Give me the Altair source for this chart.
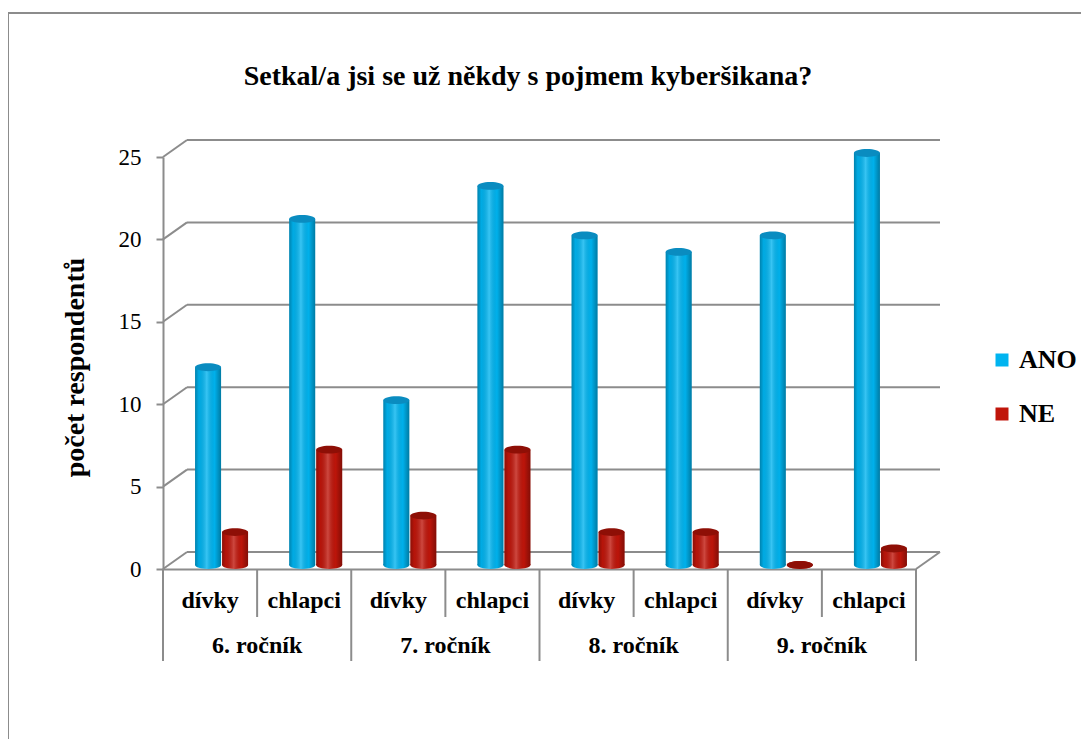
import altair as alt
import pandas as pd

# ---- data ----
groups = ["6. ročník", "7. ročník", "8. ročník", "9. ročník"]
subgroups = ["dívky", "chlapci"]
ano = [12, 21, 10, 23, 20, 19, 20, 25]
ne = [2, 7, 3, 7, 2, 2, 0, 1]
series = ["ANO", "NE"]
y_ticks = [0, 5, 10, 15, 20, 25]
title_text = "Setkal/a jsi se už někdy s pojmem kyberšikana?"
y_title = "počet respondentů"

keys = [f"{g}|{s}" for g in groups for s in subgroups]
rows = []
for i, k in enumerate(keys):
    g, s = k.split("|")
    rows.append({"key": k, "group": g, "sub": s, "series": "ANO", "value": ano[i]})
    rows.append({"key": k, "group": g, "sub": s, "series": "NE", "value": ne[i]})
df = pd.DataFrame(rows)
cat_df = pd.DataFrame({"key": keys, "sub": [k.split("|")[1] for k in keys],
                       "group": [k.split("|")[0] for k in keys]})
tick_df = pd.DataFrame({"v": y_ticks})
one = pd.DataFrame({"a": [0]})

W, H = 753, 412
DX, DY = 24, -17
FONT = "Liberation Serif"
GRID = "#8c8c8c"
BLUE, RED = "#00b4f0", "#c0150a"
BLUE_TOP, RED_TOP = "#0a8cc0", "#8e0f06"
BW = 26

xs = alt.Scale(domain=keys, paddingInner=0, paddingOuter=0)
ys = alt.Scale(domain=[0, 25], nice=False)

X = alt.X("key:N", scale=xs, title=None,
          axis=alt.Axis(labelExpr="split(datum.value, '|')[1]", labelAngle=0,
                        labelFont=FONT, labelFontSize=24, labelFontWeight="bold",
                        labelColor="black", labelPadding=19, ticks=False,
                        domainColor=GRID, domainWidth=2))
Y = alt.Y("value:Q", scale=ys,
          axis=alt.Axis(values=y_ticks, grid=False, title=y_title,
                        titleFont=FONT, titleFontSize=28, titleFontWeight="bold",
                        titleColor="black", titleX=-88, titleY=H / 2 + 4, titleAngle=270,
                        titleAlign="center", titleBaseline="middle",
                        labelFont=FONT, labelFontSize=23, labelColor="black",
                        labelPadding=15, tickSize=7, tickColor=GRID, tickWidth=2,
                        domainColor=GRID, domainWidth=2))

# back wall grid lines
grid = alt.Chart(tick_df).mark_rule(color=GRID, strokeWidth=2, yOffset=DY).encode(
    y=alt.Y("v:Q", scale=ys), x=alt.value(DX), x2=alt.value(W + DX))
diag = alt.Chart(tick_df).mark_rule(color=GRID, strokeWidth=2, y2Offset=DY).encode(
    y=alt.Y("v:Q", scale=ys), y2="v:Q", x=alt.value(0), x2=alt.value(DX))
floor_r = alt.Chart(one).mark_rule(color=GRID, strokeWidth=2, y2Offset=DY).encode(
    y=alt.datum(0, scale=ys), y2=alt.datum(0), x=alt.value(W), x2=alt.value(W + DX))

color = alt.Color("series:N", scale=alt.Scale(domain=series, range=[BLUE, RED]),
                  legend=alt.Legend(title=None, orient="none", legendX=826, legendY=190,
                                    symbolType="square", symbolSize=169,
                                    symbolStrokeWidth=0, labelFont=FONT,
                                    labelFontSize=26, labelFontWeight="bold",
                                    labelColor="black", rowPadding=28, labelOffset=4))

shade = {"gradient": "linear", "x1": 0, "x2": 1, "y1": 0, "y2": 0,
         "stops": [{"offset": 0, "color": "rgba(0,0,0,0.28)"},
                   {"offset": 0.15, "color": "rgba(0,0,0,0.05)"},
                   {"offset": 0.45, "color": "rgba(255,255,255,0.22)"},
                   {"offset": 0.75, "color": "rgba(0,0,0,0.02)"},
                   {"offset": 1, "color": "rgba(0,0,0,0.32)"}]}
ELL = "M -1 0 A 1 0.3 0 1 1 1 0 A 1 0.3 0 1 1 -1 0 Z"

layers = [grid, diag, floor_r]
for s, off, top in [("ANO", -2, BLUE_TOP), ("NE", 25, RED_TOP)]:
    base = alt.Chart(df).transform_filter(alt.datum.series == s)
    fillc = BLUE if s == "ANO" else RED
    bottom = base.mark_point(shape=ELL, size=BW * BW, filled=True, opacity=1,
                             color=fillc, xOffset=off, yOffset=-4).encode(
        x=X, y=alt.datum(0, scale=ys))
    bar = base.mark_bar(width=BW, xOffset=off, yOffset=-4, y2Offset=-4).encode(
        x=X, y=Y, color=color)
    gloss = base.mark_bar(width=BW, xOffset=off, yOffset=-4, y2Offset=-4, fill=shade).encode(
        x=X, y=Y)
    bshade = base.mark_point(shape=ELL, size=BW * BW, filled=True, opacity=1,
                             fill=shade, xOffset=off, yOffset=-4).encode(
        x=X, y=alt.datum(0, scale=ys))
    cap = base.mark_point(shape=ELL, size=BW * BW, filled=True, opacity=1,
                          color=top, xOffset=off, yOffset=-4).encode(
        x=X, y=Y)
    layers += [bottom, bshade, bar, gloss, cap]

# separators under the category axis
short_sep = alt.Chart(cat_df).transform_filter(alt.datum.sub == subgroups[1]).mark_rule(
    color=GRID, strokeWidth=2).encode(
    x=alt.X("key:N", scale=xs, bandPosition=0), y=alt.value(H), y2=alt.value(H + 48))
long_sep = alt.Chart(cat_df).transform_filter(alt.datum.sub == subgroups[0]).mark_rule(
    color=GRID, strokeWidth=2).encode(
    x=alt.X("key:N", scale=xs, bandPosition=0), y=alt.value(H), y2=alt.value(H + 92))
end_sep = alt.Chart(cat_df.tail(1)).mark_rule(color=GRID, strokeWidth=2).encode(
    x=alt.X("key:N", scale=xs, bandPosition=1), y=alt.value(H), y2=alt.value(H + 92))
group_lbl = alt.Chart(cat_df).transform_filter(alt.datum.sub == subgroups[0]).mark_text(
    font=FONT, fontSize=24, fontWeight="bold", color="black", baseline="middle").encode(
    x=alt.X("key:N", scale=xs, bandPosition=1), y=alt.value(H + 77), text="group:N")

title = alt.Chart(one).mark_text(text=title_text, font=FONT, fontSize=28,
                                 fontWeight="bold", color="black", align="center",
                                 baseline="alphabetic").encode(
    x=alt.value(365), y=alt.value(-72))

border_top = alt.Chart(one).mark_rule(color="#8c8c8c", strokeWidth=2).encode(
    x=alt.value(-156), x2=alt.value(1000), y=alt.value(-144))
border_left = alt.Chart(one).mark_rule(color="#8c8c8c", strokeWidth=2).encode(
    x=alt.value(-155), y=alt.value(-144), y2=alt.value(700))

layers += [short_sep, long_sep, end_sep, group_lbl, title, border_top, border_left]

chart = alt.layer(*layers).properties(
    width=W, height=H,
    autosize=alt.AutoSizeParams(type="none"),
    padding={"left": 155, "top": 149, "right": 165, "bottom": 170},
).configure(background="white", view=alt.ViewConfig(stroke=None))

chart.save("out.html", embed_options={"renderer": "svg", "actions": False})
